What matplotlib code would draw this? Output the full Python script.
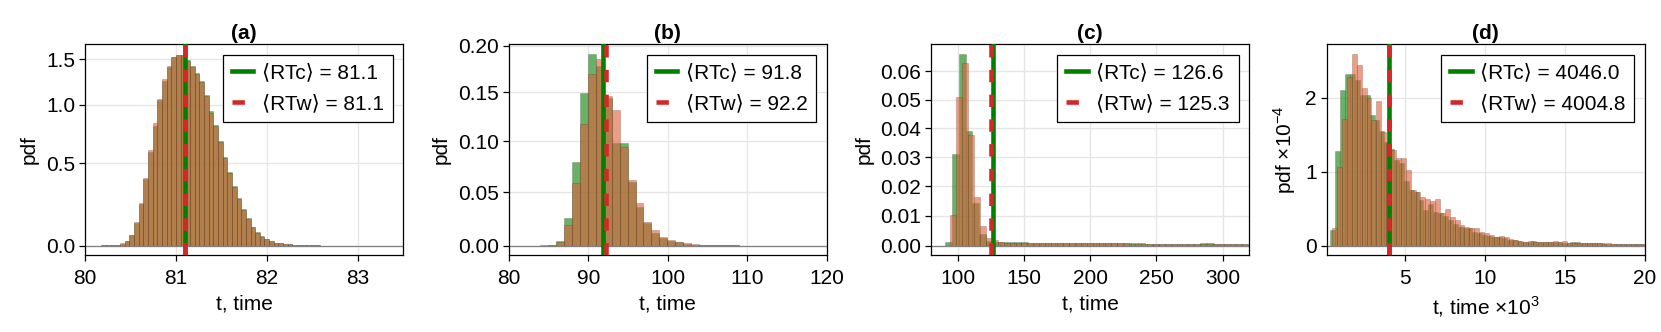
import numpy as np
import matplotlib.pyplot as plt

plt.rcParams['font.family'] = ['Liberation Sans', 'DejaVu Sans']
plt.rcParams['mathtext.fontset'] = 'custom'
plt.rcParams['mathtext.rm'] = 'Liberation Sans'
plt.rcParams['font.size'] = 15

# ---- data ----
# (a)  bins: start, width
a_start, a_width = 80.18, 0.0513
a_green = [0.001, 0.002, 0.003, 0.005, 0.010, 0.022, 0.052, 0.118, 0.226, 0.388,
           0.585, 0.80, 1.04, 1.25, 1.40, 1.52, 1.55, 1.545, 1.49, 1.42,
           1.33, 1.24, 1.10, 0.935, 0.81, 0.675, 0.548, 0.437, 0.34, 0.264,
           0.195, 0.143, 0.098, 0.068, 0.046, 0.032, 0.022, 0.0155, 0.011, 0.008,
           0.006, 0.004, 0.003, 0.002, 0.0015, 0.001, 0.0008, 0.0005, 0.0004, 0.0003,
           0.0002, 0.0001]
a_red = [0.001, 0.002, 0.003, 0.005, 0.011, 0.024, 0.056, 0.122, 0.233, 0.395,
         0.598, 0.826, 1.055, 1.265, 1.415, 1.53, 1.555, 1.55, 1.48, 1.41,
         1.32, 1.23, 1.09, 0.92, 0.80, 0.665, 0.54, 0.43, 0.335, 0.26,
         0.19, 0.14, 0.095, 0.066, 0.045, 0.031, 0.021, 0.015, 0.011, 0.008,
         0.006, 0.004, 0.003, 0.002, 0.0015, 0.001, 0.0008, 0.0005, 0.0004, 0.0003,
         0.0002, 0.0001]

# (b)
b_start, b_width = 83.95, 1.0
b_green = [0.0002, 0.0005, 0.0043, 0.0253, 0.079, 0.1497, 0.191, 0.178, 0.144, 0.098,
           0.098, 0.060, 0.036, 0.0207, 0.0114, 0.0068, 0.0045, 0.003, 0.0018, 0.001,
           0.0007, 0.0005, 0.0004, 0.0003, 0.0002, 0.0001]
b_red = [0.0001, 0.0004, 0.0037, 0.0188, 0.0585, 0.117, 0.169, 0.186, 0.146, 0.132,
         0.0945, 0.0617, 0.0394, 0.022, 0.0144, 0.0083, 0.0052, 0.0036, 0.0022, 0.0012,
         0.0008, 0.0005, 0.0004, 0.0003, 0.0002, 0.0001]

# (c)  green and red use different bins
c_green_start, c_green_width = 90.45, 5.2
c_green = [0.0013, 0.0311, 0.0661, 0.0391, 0.0145, 0.004, 0.0015,
           0.0013, 0.0012, 0.0012, 0.0011, 0.0011, 0.0010, 0.0010, 0.0010, 0.0009, 0.0009,
           0.0009, 0.0009, 0.0009, 0.0008, 0.0008, 0.0008, 0.0008, 0.0008, 0.0008, 0.0008,
           0.0008, 0.0008, 0.0007, 0.0007, 0.0007, 0.0007, 0.0007, 0.0007, 0.0007, 0.0007,
           0.0008, 0.0008, 0.0007, 0.0007, 0.0007, 0.0007, 0.0007]
c_red_start, c_red_width = 94.3, 4.5
c_red = [0.0103, 0.0508, 0.0628, 0.0377, 0.0165, 0.0066, 0.0025, 0.0019,
         0.0011, 0.0010, 0.0010, 0.0010, 0.0009, 0.0009, 0.0009, 0.0009, 0.0009, 0.0009,
         0.0009, 0.0008, 0.0008, 0.0008, 0.0008, 0.0008, 0.0008, 0.0008, 0.0008, 0.0008,
         0.0008, 0.0008, 0.0007, 0.0007, 0.0007, 0.0007, 0.0007, 0.0007, 0.0007, 0.0007,
         0.0007, 0.0007, 0.0007, 0.0007, 0.0007, 0.0007, 0.0007, 0.0007, 0.0007, 0.0007,
         0.0007, 0.0007]

# (d)  time in units of 10^3, pdf in units of 10^-4
d_green_start, d_green_width = 0.36, 0.306
d_green = [0.21, 1.28, 2.10, 2.32, 2.32, 2.24, 2.04, 2.04, 1.77, 1.70,
           1.55, 1.40, 1.30, 1.16, 1.12, 0.87, 0.75, 0.72, 0.62, 0.48,
           0.56, 0.46, 0.44, 0.40, 0.35, 0.29, 0.25, 0.24, 0.24, 0.19,
           0.17, 0.15, 0.13, 0.12, 0.12, 0.10, 0.08, 0.07, 0.06, 0.055,
           0.054, 0.06, 0.05, 0.045, 0.05, 0.045, 0.045, 0.04, 0.036, 0.045,
           0.045, 0.035, 0.03, 0.032, 0.032, 0.03, 0.025, 0.025, 0.022, 0.022,
           0.02, 0.02, 0.018, 0.018]
d_red_start, d_red_width = 0.475, 0.306
d_red = [0.24, 1.06, 1.71, 2.28, 2.59, 2.44, 2.13, 2.00, 1.70, 1.95,
         1.54, 1.38, 1.29, 1.18, 1.18, 1.02, 0.75, 0.72, 0.66, 0.63,
         0.60, 0.63, 0.44, 0.50, 0.39, 0.35, 0.28, 0.25, 0.235, 0.235,
         0.19, 0.167, 0.144, 0.122, 0.13, 0.12, 0.09, 0.075, 0.065, 0.055,
         0.06, 0.05, 0.055, 0.045, 0.05, 0.06, 0.045, 0.06, 0.035, 0.04,
         0.035, 0.03, 0.03, 0.03, 0.035, 0.025, 0.03, 0.025, 0.02, 0.025,
         0.02, 0.02, 0.02, 0.025]

panels = ['(a)', '(b)', '(c)', '(d)']
rt_c = [81.1, 91.8, 126.6, 4046.0]
rt_w = [81.1, 92.2, 125.3, 4004.8]

xlims = [(80, 83.5), (80, 120), (80, 320), (0.125, 20)]
ylims = [(-0.047, 1.688), (-0.0085, 0.2016), (-0.0031, 0.0696), (-0.126, 2.72)]
xticks = [[80, 81, 82, 83], [80, 90, 100, 110, 120], [100, 150, 200, 250, 300], [5, 10, 15, 20]]
yticks = [[0, 0.5, 1.0, 1.5], [0, 0.05, 0.10, 0.15, 0.20],
          [0, 0.01, 0.02, 0.03, 0.04, 0.05, 0.06], [0, 1, 2]]
yfmt = ['{:.1f}', '{:.2f}', '{:.2f}', '{:.0f}']

green_face = (0.0, 0.5, 0.0, 0.6)
red_face = (0.88, 0.38, 0.24, 0.62)
edge = (0.25, 0.15, 0.08, 0.3)
line_green = '#008000'
line_red = '#d62728'


def pseudolog(x):
    return np.sign(x) * np.log10(1 + np.abs(x))


def pseudolog_inv(y):
    return np.sign(y) * (10 ** np.abs(y) - 1)


def draw_hist(ax, start, width, heights, face):
    left = start + width * np.arange(len(heights))
    ax.bar(left, heights, width=width, align='edge', facecolor=face,
           edgecolor=edge, linewidth=0.5, zorder=2)


hists = [
    [(a_start, a_width, a_green), (a_start, a_width, a_red)],
    [(b_start, b_width, b_green), (b_start, b_width, b_red)],
    [(c_green_start, c_green_width, c_green), (c_red_start, c_red_width, c_red)],
    [(d_green_start, d_green_width, d_green), (d_red_start, d_red_width, d_red)],
]

fig = plt.figure(figsize=(16.61, 3.32), dpi=100)
W, H = 1661, 332
lefts = [85, 508.7, 931, 1326.7]
for i in range(4):
    ax = fig.add_axes([lefts[i] / W, (H - 255) / H, 318 / W, (255 - 44.3) / H])
    if i < 3:
        ax.set_yscale('function', functions=(pseudolog, pseudolog_inv))
    ax.grid(True, color='#e6e6e6', linewidth=1.0, zorder=0)
    ax.set_axisbelow(True)

    (gs, gw, gh), (rs, rw, rh) = hists[i]
    draw_hist(ax, gs, gw, gh, green_face)
    draw_hist(ax, rs, rw, rh, red_face)
    ax.axhline(0, color='0.5', linewidth=0.9, zorder=2.5)

    scale = 1000.0 if i == 3 else 1.0
    ax.axvline(rt_c[i] / scale, color=line_green, linewidth=3.3, zorder=3,
               label='\u27e8RTc\u27e9 = {:.1f}'.format(rt_c[i]))
    ax.axvline(rt_w[i] / scale, color=line_red, linewidth=3.3, zorder=4,
               linestyle=(0, (2.7, 2.7)),
               label='\u27e8RTw\u27e9 = {:.1f}'.format(rt_w[i]))

    ax.set_xlim(*xlims[i])
    ax.set_ylim(*ylims[i])
    ax.set_xticks(xticks[i])
    ax.set_yticks(yticks[i])
    ax.set_yticklabels([yfmt[i].format(v) for v in yticks[i]])
    ax.minorticks_off()
    ax.tick_params(direction='out', length=4, width=0.9, labelsize=15)
    ax.tick_params(axis='x', pad=6)
    ax.tick_params(axis='y', pad=3)
    for sp in ax.spines.values():
        sp.set_linewidth(0.9)

    ax.set_title(panels[i], fontweight='bold', fontsize=15, pad=4)
    if i == 3:
        ax.set_xlabel('t, time \u00d710$^{3}$', fontsize=15, labelpad=5)
        ax.set_ylabel('pdf \u00d710$^{-4}$', fontsize=15, labelpad=5)
    else:
        ax.set_xlabel('t, time', fontsize=15, labelpad=5)
        ax.set_ylabel('pdf', fontsize=15, labelpad=5)

    leg = ax.legend(loc='upper right', fontsize=15, fancybox=False, framealpha=1,
                    edgecolor='black', borderaxespad=0.5, borderpad=0.42,
                    handlelength=1.05, handletextpad=0.4, labelspacing=0.58)
    leg.get_frame().set_linewidth(0.9)

fig.savefig('out.png', dpi=100)
